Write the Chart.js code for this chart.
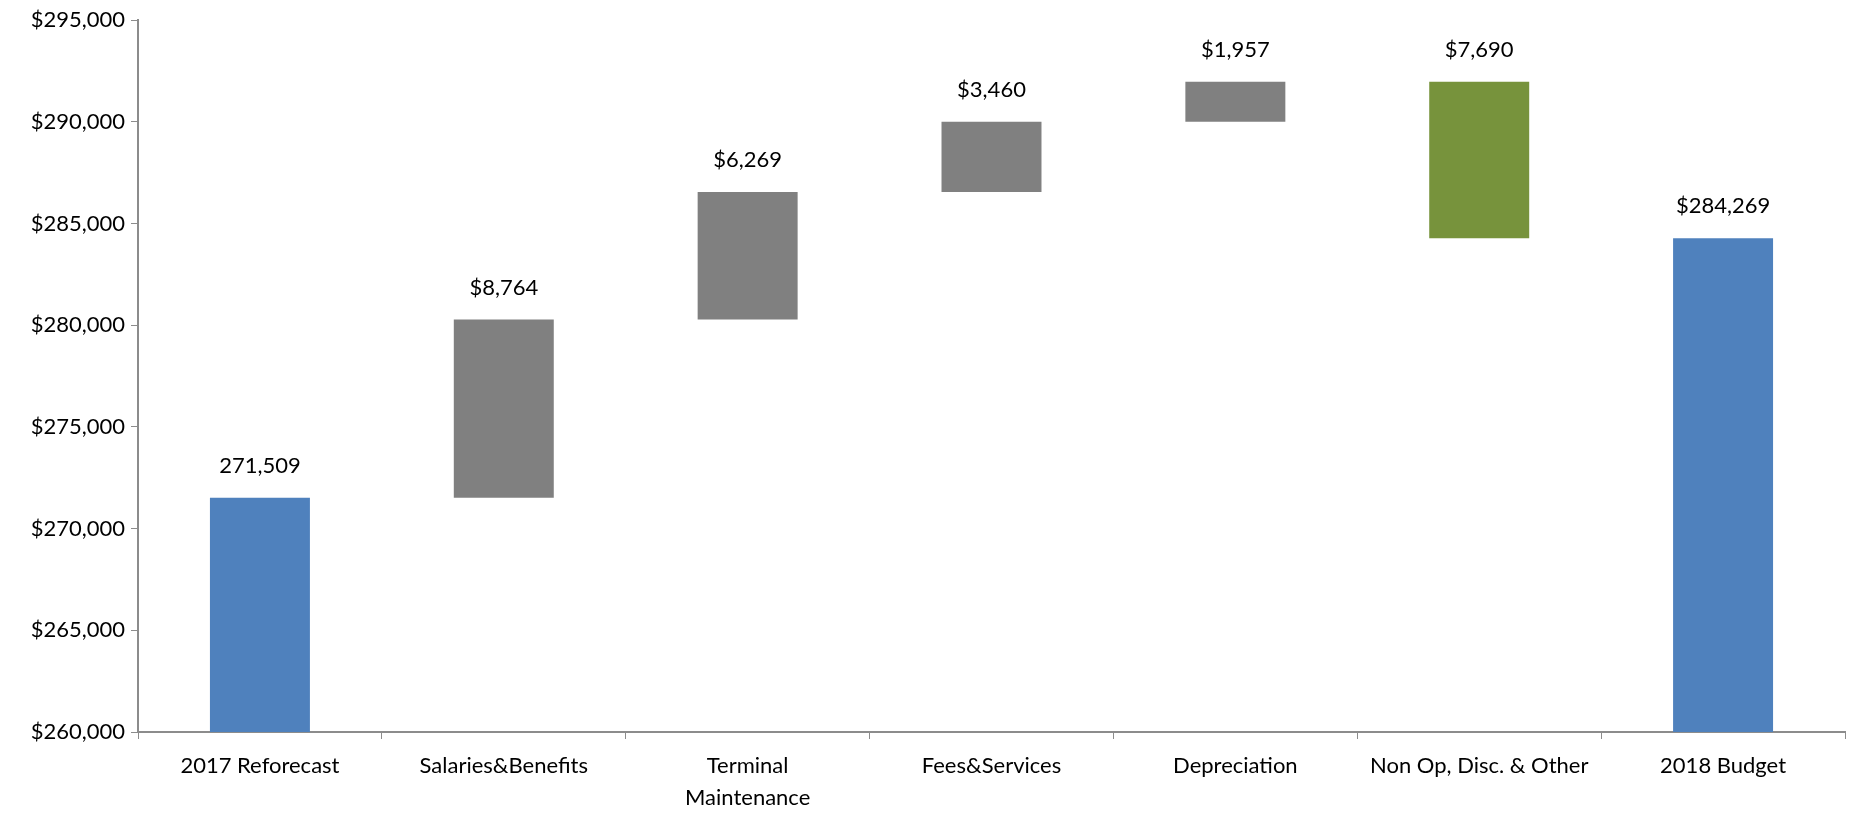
<!DOCTYPE html>
<html>
<head>
<meta charset="utf-8">
<title>2018 Budget Bridge</title>
<script src="https://cdn.jsdelivr.net/npm/chart.js@4.4.1/dist/chart.umd.min.js"></script>
<style>
  html, body { margin: 0; padding: 0; background: #fff; }
  #wrap { width: 1852px; height: 813px; }
</style>
</head>
<body>
<div id="wrap"><canvas id="bridgeChart" width="1852" height="813"></canvas></div>
<script>
const categories = ['2017 Reforecast', 'Salaries&Benefits', ['Terminal', 'Maintenance'], 'Fees&Services', 'Depreciation', 'Non Op, Disc. & Other', '2018 Budget'];
// first and last entries are totals, the rest are changes
const amounts = [271509, 8764, 6269, 3460, 1957, -7690, 284269];
const barKinds = ['total', 'up', 'up', 'up', 'up', 'down', 'total'];
const valueLabels = ['271,509', '$8,764', '$6,269', '$3,460', '$1,957', '$7,690', '$284,269'];
const yTicks = { min: 260000, max: 295000, step: 5000 };

const kindColors = { total: '#4F81BD', up: '#808080', down: '#77933C' };
const fontFamily = 'Lato, "Open Sans", sans-serif';

// running totals -> floating [low, high] ranges
var ranges = [];
var running = 0;
amounts.forEach((amt, i) => {
    if (barKinds[i] === 'total') {
        ranges.push([yTicks.min, amt]);
        running = amt;
    } else {
        var next = running + amt;
        ranges.push([Math.min(running, next), Math.max(running, next)]);
        running = next;
    }
});

const barLabels = {
    id: 'barLabels',
    afterDatasetsDraw(chart) {
        var ctx = chart.ctx;
        var meta = chart.getDatasetMeta(0);
        ctx.save();
        ctx.font = '22px ' + fontFamily;
        ctx.fillStyle = '#000';
        ctx.textAlign = 'center';
        ctx.textBaseline = 'middle';
        meta.data.forEach((bar, i) => {
            var p = bar.getProps(['x', 'y', 'base'], true);
            var top = Math.min(p.y, p.base);
            ctx.fillText(valueLabels[i], p.x, top - 32);
        });
        ctx.restore();
    }
};

var ctx = document.getElementById('bridgeChart').getContext('2d');
var bridgeChart = new Chart(ctx, {
    type: 'bar',
    data: {
        labels: categories,
        datasets: [{
            data: ranges,
            backgroundColor: barKinds.map(k => kindColors[k]),
            borderWidth: 0,
            barPercentage: 0.41,
            categoryPercentage: 1
        }]
    },
    options: {
        responsive: false,
        animation: false,
        layout: { padding: { top: 20, right: 7, left: 0, bottom: 0 } },
        plugins: {
            legend: { display: false },
            tooltip: { enabled: false }
        },
        scales: {
            x: {
                grid: {
                    offset: true,
                    drawOnChartArea: false,
                    drawTicks: true,
                    tickLength: 7,
                    color: '#8c8c8c'
                },
                border: { color: '#8c8c8c', width: 2 },
                ticks: {
                    color: '#000',
                    font: { family: fontFamily, size: 22, lineHeight: 1.45 },
                    padding: 11,
                    maxRotation: 0,
                    autoSkip: false
                },
                afterFit(axis) { axis.height = 81; }
            },
            y: {
                min: yTicks.min,
                max: yTicks.max,
                grid: {
                    drawOnChartArea: false,
                    drawTicks: true,
                    tickLength: 7,
                    color: '#8c8c8c'
                },
                border: { color: '#8c8c8c', width: 2 },
                ticks: {
                    stepSize: yTicks.step,
                    color: '#000',
                    padding: 6,
                    font: { family: fontFamily, size: 22 },
                    callback: v => '$' + v.toLocaleString('en-US')
                },
                afterFit(axis) { axis.width = 138; }
            }
        }
    },
    plugins: [barLabels]
});
</script>
</body>
</html>
